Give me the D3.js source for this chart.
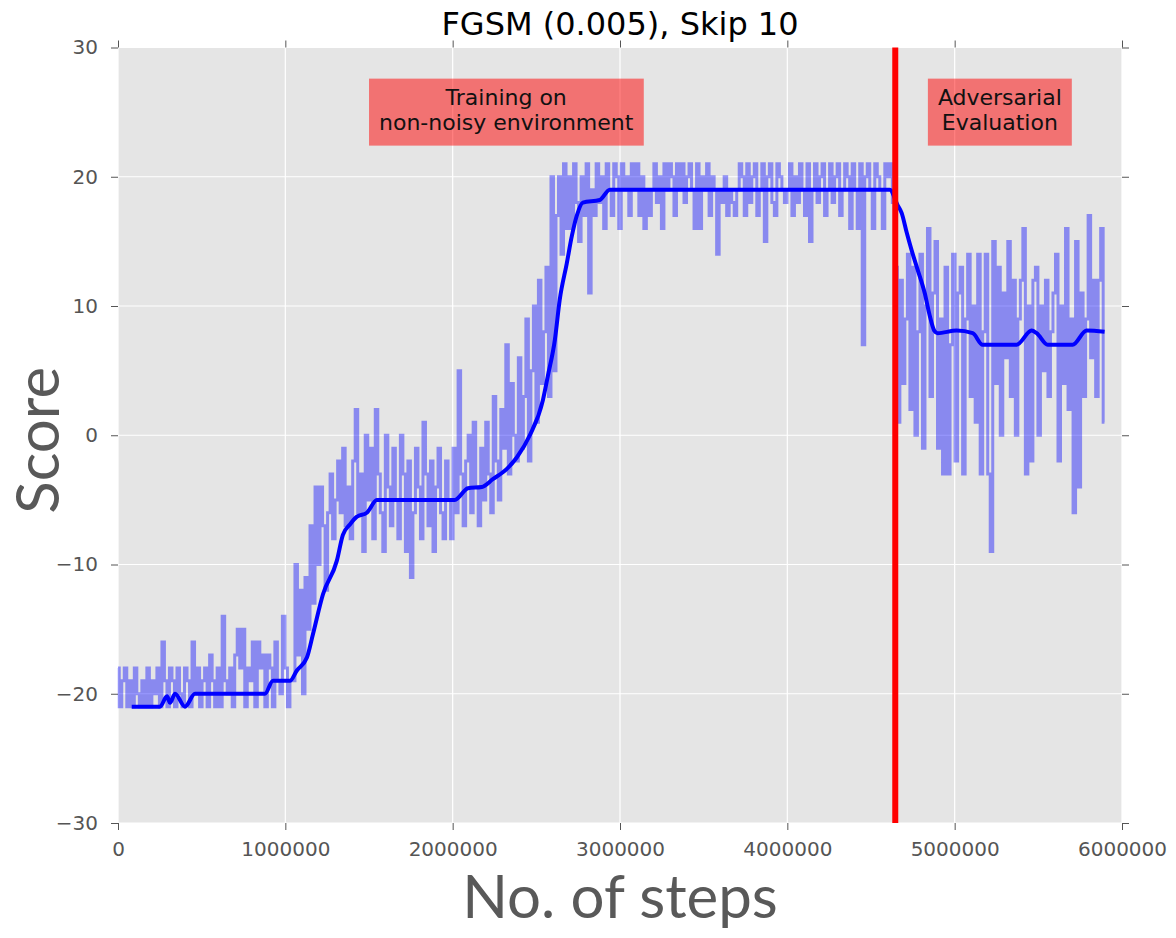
<!DOCTYPE html>
<html>
<head>
<meta charset="utf-8">
<script src="https://cdnjs.cloudflare.com/ajax/libs/d3/7.8.5/d3.min.js"></script>
<style>
	body { margin: 0; background: #fff; }
	svg { display: block; }
</style>
</head>
<body>
<svg id="chart" width="1176" height="938"></svg>
<script>
// raw episode scores, one every rawStep steps starting at step 0
var rawStep = 15000;
var trainScores = [
	-18, -21, -19, -18, -21, -19, -21, -18, -20, -21,
	-19, -21, -18, -21, -19, -20, -18, -21, -16, -19,
	-21, -18, -19, -21, -18, -20, -21, -18, -19, -21,
	-16, -20, -18, -21, -19, -18, -21, -17, -19, -21,
	-18, -21, -14, -19, -20, -18, -21, -17, -15, -18,
	-15, -21, -18, -19, -16, -21, -16, -18, -17, -21,
	-17, -18, -21, -16, -19, -20, -14, -18, -21, -19,
	-19, -10, -17, -12, -20, -11, -15, -7, -13, -4,
	-10, -4, -7, -12, -6, -3, -8, -5, -2, -6,
	-1, -7, -4, -8, -2, 2, -6, -3, -9, 0,
	-5, -1, -8, 2, -3, -6, -9, 0, -4, -7,
	-1, -5, -8, 0, -3, -9, -2, -11, -6, -1,
	-4, -8, 1, -3, -7, -2, -9, -4, -1, -6,
	-8, -2, -5, -8, -1, -6, 5, -3, -7, -2,
	0, -6, 1, -4, -7, -1, -5, 1, -3, -6,
	3, -2, -5, 2, -1, 7, -3, 4, 0, -2,
	6, -1, 3, 9, -2, 5, 10, 1, 12, 4,
	8, 13, 3, 20, 5, 17, 20, 14, 21, 16,
	20, 16, 21, 18, 15, 20, 17, 21, 11, 19,
	17, 21, 18, 20, 16, 21, 19, 17, 21, 20,
	16, 21, 19, 20, 17, 21, 19, 21, 17, 20,
	16, 19, 17, 19, 21, 18, 20, 16, 21, 19,
	21, 20, 17, 21, 19, 21, 18, 20, 21, 19,
	16, 21, 16, 20, 19, 21, 17, 20, 19, 14,
	19, 18, 20, 17, 19, 18, 17, 19, 21, 20,
	17, 21, 18, 20, 21, 17, 19, 21, 15, 20,
	21, 18, 17, 21, 20, 19, 18, 19, 21, 17,
	20, 18, 21, 19, 17, 21, 15, 19, 21, 18,
	20, 21, 17, 19, 21, 18, 20, 21, 17, 19,
	21, 20, 16, 21, 19, 16, 21, 7, 20, 21,
	19, 16, 21, 20, 19, 16, 21, 20, 21, 18
];
var evalScores = [
	13, 1, 12, 4, 9, 14, 2, 13, 0, 8,
	14, -1, 10, 16, 3, 11, 15, -1, 9, -3,
	13, -3, 7, 14, -2, 11, 13, -3, 9, 14,
	3, 10, 1, 14, -3, 8, 14, -3, -9, 15,
	4, 13, 0, 11, 6, 15, 3, 12, 0, 9,
	12, 16, -3, 10, -2, 12, 13, 0, 10, 5,
	12, 3, 8, 11, 14, -2, 10, 4, 16, 2,
	9, -6, 15, -4, 11, 3, 9, 17, 6, 12,
	3, 12, 16, 1
];

// running mean of the scores
var avgSteps = [82000, 251000, 293000, 311000, 341000, 400000, 460000, 878000, 926000, 1027000,
	1069000, 1129000, 1165000, 1225000, 1308000, 1344000, 1386000, 1428000, 1487000, 1547000,
	2013000, 2091000, 2174000, 2240000, 2324000, 2384000, 2461000, 2539000, 2569000, 2611000,
	2640000, 2682000, 2712000, 2742000, 2778000, 2879000, 2939000, 4612000, 4659000, 4683000,
	4713000, 4743000, 4779000, 4821000, 4850000, 4878000, 4898000, 5012000, 5108000, 5167000,
	5370000, 5460000, 5490000, 5556000, 5705000, 5789000, 5896000];
var avgScores = [-21, -21, -20.2, -20.7, -20, -21, -20, -20, -19, -19,
	-18.2, -17.2, -15.4, -12.3, -9.7, -7.7, -6.9, -6.3, -6, -5,
	-5, -4.1, -4, -3.4, -2.6, -1.7, 0, 2.7, 4.6, 7.4,
	10.5, 13.3, 15.4, 17, 18, 18.2, 19, 19, 17.8, 17.2,
	15.7, 14.3, 12.8, 11.0, 9.3, 8.1, 7.9, 8.1, 7.9, 7,
	7, 8.1, 7.9, 7, 7, 8.1, 8];

var xTicks = [0, 1000000, 2000000, 3000000, 4000000, 5000000, 6000000];
var yTicks = [-30, -20, -10, 0, 10, 20, 30];
var switchStep = 4645000;

var noteSteps = [2320000, 5270000];
var noteScores = [25, 25];
var noteLines = [['Training on', 'non-noisy environment'], ['Adversarial', 'Evaluation']];

var titleText = 'FGSM (0.005), Skip 10';
var xLabel = 'No. of steps';
var yLabel = 'Score';

var margin = { top: 47.5, right: 54, bottom: 115, left: 118 };
var width = 1176 - margin.left - margin.right;
var height = 938 - margin.top - margin.bottom;

var svg = d3.select('#chart');
var g = svg.append('g').attr('transform', 'translate(' + margin.left + ',' + margin.top + ')');

var x = d3.scaleLinear().domain([0, 6000000]).range([0, width]);
var y = d3.scaleLinear().domain([-30, 30]).range([height, 0]);

g.append('rect')
	.attr('width', width)
	.attr('height', height)
	.attr('fill', '#e5e5e5');

// grid
g.append('g').selectAll('line').data(xTicks).enter().append('line')
	.attr('x1', function (d) { return x(d); })
	.attr('x2', function (d) { return x(d); })
	.attr('y1', 0).attr('y2', height)
	.attr('stroke', '#fff').attr('stroke-width', 1.2);
g.append('g').selectAll('line').data(yTicks).enter().append('line')
	.attr('y1', function (d) { return y(d); })
	.attr('y2', function (d) { return y(d); })
	.attr('x1', 0).attr('x2', width)
	.attr('stroke', '#fff').attr('stroke-width', 1.2);

// axes on all four sides, labels only left and bottom
var fmt = d3.format('d');
function styleAxis(sel, keepLabels) {
	sel.select('.domain').remove();
	sel.selectAll('.tick line').attr('stroke', '#555').attr('stroke-width', 1);
	if (!keepLabels) {
		sel.selectAll('.tick text').remove();
	} else {
		sel.selectAll('.tick text')
			.attr('fill', '#555')
			.attr('font-family', 'DejaVu Sans')
			.attr('font-size', 20);
	}
}
g.append('g').attr('transform', 'translate(0,' + height + ')')
	.call(d3.axisBottom(x).tickValues(xTicks).tickFormat(fmt).tickSizeInner(7).tickSizeOuter(0).tickPadding(12))
	.call(styleAxis, true);
g.append('g')
	.call(d3.axisLeft(y).tickValues(yTicks).tickFormat(fmt).tickSizeInner(7).tickSizeOuter(0).tickPadding(13))
	.call(styleAxis, true);
g.append('g')
	.call(d3.axisTop(x).tickValues(xTicks).tickSizeInner(7).tickSizeOuter(0))
	.call(styleAxis, false);
g.append('g').attr('transform', 'translate(' + width + ',0)')
	.call(d3.axisRight(y).tickValues(yTicks).tickSizeInner(7).tickSizeOuter(0))
	.call(styleAxis, false);

var rawScores = trainScores.concat(evalScores);
var rawData = rawScores.map(function (v, i) { return { step: i * rawStep, score: v }; });
var avgData = avgSteps.map(function (s, i) { return { step: s, score: avgScores[i] }; });

var plot = g.append('g');

// dense episode line drawn as steps so it reads as a band of vertical strokes
var rawLine = d3.line()
	.curve(d3.curveStep)
	.x(function (d) { return x(d.step); })
	.y(function (d) { return y(d.score); });
plot.append('path')
	.datum(rawData)
	.attr('d', rawLine)
	.attr('fill', 'none')
	.attr('stroke', '#0000ff')
	.attr('stroke-opacity', 0.4)
	.attr('stroke-width', 3);

var avgLine = d3.line()
	.curve(d3.curveMonotoneX)
	.x(function (d) { return x(d.step); })
	.y(function (d) { return y(d.score); });
plot.append('path')
	.datum(avgData)
	.attr('d', avgLine)
	.attr('fill', 'none')
	.attr('stroke', '#0000ff')
	.attr('stroke-width', 4)
	.attr('stroke-linejoin', 'round');

plot.append('line')
	.attr('x1', x(switchStep)).attr('x2', x(switchStep))
	.attr('y1', 0).attr('y2', height)
	.attr('stroke', '#ff0000')
	.attr('stroke-width', 6);

// annotation boxes
noteSteps.forEach(function (s, i) {
	var cx = x(s);
	var cy = y(noteScores[i]);
	var note = g.append('g');
	var box = note.append('rect');
	var txt = note.append('text')
		.attr('text-anchor', 'middle')
		.attr('font-family', 'DejaVu Sans')
		.attr('font-size', 22)
		.attr('fill', '#111');
	noteLines[i].forEach(function (line, j) {
		txt.append('tspan')
			.attr('x', cx)
			.attr('y', cy - 7 + j * 24.5)
			.text(line);
	});
	var bb = txt.node().getBBox();
	box.attr('x', bb.x - 10)
		.attr('width', bb.width + 20)
		.attr('y', cy - 33.5)
		.attr('height', 67)
		.attr('fill', '#ff0000')
		.attr('fill-opacity', 0.5);
});

svg.append('text')
	.attr('x', margin.left + width / 2)
	.attr('y', 35)
	.attr('text-anchor', 'middle')
	.attr('font-family', 'DejaVu Sans')
	.attr('font-size', 32)
	.attr('fill', '#000')
	.text(titleText);

svg.append('text')
	.attr('x', margin.left + width / 2)
	.attr('y', 918)
	.attr('text-anchor', 'middle')
	.attr('font-family', 'Lato')
	.attr('font-size', 60)
	.attr('fill', '#595959')
	.text(xLabel);

svg.append('text')
	.attr('transform', 'translate(59,' + (margin.top + height / 2 + 5) + ') rotate(-90)')
	.attr('text-anchor', 'middle')
	.attr('font-family', 'Lato')
	.attr('font-size', 60)
	.attr('fill', '#595959')
	.text(yLabel);
</script>
</body>
</html>
